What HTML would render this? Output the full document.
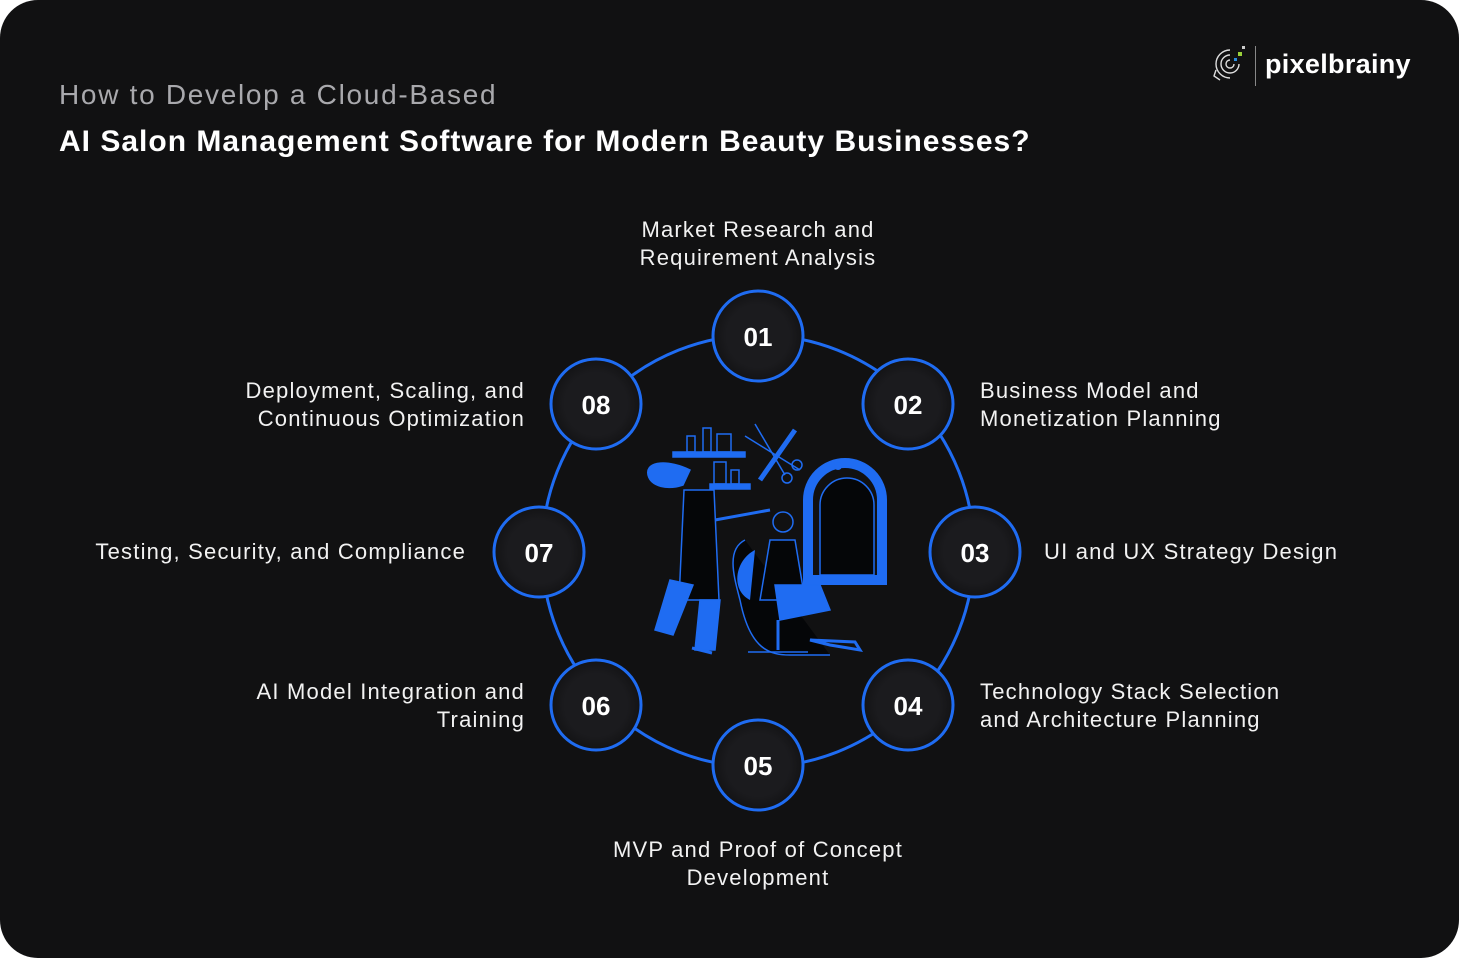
<!DOCTYPE html>
<html><head><meta charset="utf-8"><style>
html,body{margin:0;padding:0;background:#fff;}
.card{position:absolute;left:0;top:0;width:1459px;height:958px;background:#111112;border-radius:38px;overflow:hidden;font-family:"Liberation Sans",sans-serif;color:#fff;}
.t{position:absolute;font-size:22px;line-height:28px;color:#f2f2f2;white-space:nowrap;letter-spacing:1.2px;}
</style></head><body><div class="card">
<div class="t" style="left:59px;top:78px;font-size:28px;line-height:34px;color:#a9a9ad;letter-spacing:1.7px;">How to Develop a Cloud-Based</div>
<div class="t" style="left:59px;top:124px;font-size:30px;line-height:36px;font-weight:bold;color:#fff;letter-spacing:1px;">AI Salon Management Software for Modern Beauty Businesses?</div>
<div class="t" style="left:1265px;top:46px;font-size:27px;line-height:36px;font-weight:bold;color:#fff;letter-spacing:0.3px;">pixelbrainy</div>
<div style="position:absolute;left:1255px;top:46px;width:1px;height:40px;background:#888;"></div>
<svg style="position:absolute;left:1210px;top:44px" width="40" height="44"><path d="M20 6a14 14 0 1 0 0 28M6 26l-2 6 6 4M20 16a4 4 0 1 0 4 4M20 11a9 9 0 1 0 9 9" stroke="#ddd" stroke-width="1.4" fill="none"/><rect x="28" y="8" width="4" height="4" fill="#9ad03a"/><rect x="24" y="14" width="3" height="3" fill="#2a8ce0"/><rect x="32" y="2" width="3" height="3" fill="#ccc"/></svg>

<div class="t" style="left:508px;top:216px;width:500px;text-align:center;">Market Research and<br>Requirement Analysis</div>
<div class="t" style="left:980px;top:377px;">Business Model and<br>Monetization Planning</div>
<div class="t" style="left:1044px;top:538px;">UI and UX Strategy Design</div>
<div class="t" style="left:980px;top:678px;">Technology Stack Selection<br>and Architecture Planning</div>
<div class="t" style="left:508px;top:836px;width:500px;text-align:center;">MVP and Proof of Concept<br>Development</div>
<div class="t" style="left:25px;top:678px;width:500px;text-align:right;">AI Model Integration and<br>Training</div>
<div class="t" style="left:-34px;top:538px;width:500px;text-align:right;">Testing, Security, and Compliance</div>
<div class="t" style="left:25px;top:377px;width:500px;text-align:right;">Deployment, Scaling, and<br>Continuous Optimization</div>

<svg style="position:absolute;left:0;top:0" width="1459" height="958">
<defs><radialGradient id="g"><stop offset="0.7" stop-color="#1b1b1e"/><stop offset="1" stop-color="#131315"/></radialGradient></defs>
<circle cx="758" cy="551" r="216" fill="none" stroke="#1f6cf2" stroke-width="3"/>
<g font-family="Liberation Sans,sans-serif" font-weight="bold" font-size="26" fill="#fff" text-anchor="middle">
<g fill="url(#g)" stroke="#1f6cf2" stroke-width="3">
<circle cx="758" cy="336" r="45"/><circle cx="908" cy="404" r="45"/><circle cx="975" cy="552" r="45"/><circle cx="908" cy="705" r="45"/><circle cx="758" cy="765" r="45"/><circle cx="596" cy="705" r="45"/><circle cx="539" cy="552" r="45"/><circle cx="596" cy="404" r="45"/></g>
<text x="758" y="346">01</text><text x="908" y="414">02</text><text x="975" y="562">03</text><text x="908" y="715">04</text><text x="758" y="775">05</text><text x="596" y="715">06</text><text x="539" y="562">07</text><text x="596" y="414">08</text>
</g>
<g stroke="#1f6cf2" stroke-width="1.5" fill="none">
<rect x="673" y="452" width="72" height="5" fill="#1f6cf2"/>
<rect x="710" y="484" width="40" height="5" fill="#1f6cf2"/>
<rect x="687" y="436" width="8" height="16"/><rect x="703" y="428" width="8" height="24"/><rect x="717" y="434" width="14" height="18"/>
<rect x="714" y="462" width="12" height="22"/><rect x="731" y="470" width="8" height="14"/>
<line x1="760" y1="480" x2="795" y2="430" stroke-width="5"/><line x1="745" y1="436" x2="800" y2="470"/><line x1="755" y1="424" x2="785" y2="475"/>
<circle cx="787" cy="478" r="5"/><circle cx="797" cy="465" r="5"/>
<path d="M820 575v-70a27 27 0 0 1 54 0v70z" fill="#050608"/>
<path d="M808 580v-80a37 37 0 0 1 74 0v80z" stroke="#1f6cf2" stroke-width="10"/>
<path d="M690 470c-20-10-45-10-42 5 3 12 20 15 35 10z" fill="#1f6cf2"/>
<path d="M684 490l-5 110h40l-5-110z" fill="#050608"/>
<path d="M670 580l-15 50 18 5 20-50zM700 600l-5 50 20 0 5-50z" fill="#1f6cf2"/>
<path d="M715 520l55-10" stroke-width="3"/>
<path d="M745 540c-20 10-10 40-5 60 10 50 30 55 50 55h40" fill="#050608"/>
<path d="M755 550c-20 10-25 40-5 50" fill="#1f6cf2" stroke="none"/>
<circle cx="783" cy="522" r="10"/>
<path d="M770 540l-10 60h45l-10-60z" fill="#050608"/>
<path d="M775 585h45l10 25-50 10z" fill="#1f6cf2"/>
<line x1="778" y1="620" x2="778" y2="650" stroke-width="3"/><line x1="748" y1="652" x2="808" y2="652"/>
<path d="M810 640l20 5 30 5-5-8zM692 648l20 5" stroke-width="3"/>
</g>
<circle cx="838" cy="466" r="4" fill="#1f6cf2"/>
</svg>
</div></body></html>
